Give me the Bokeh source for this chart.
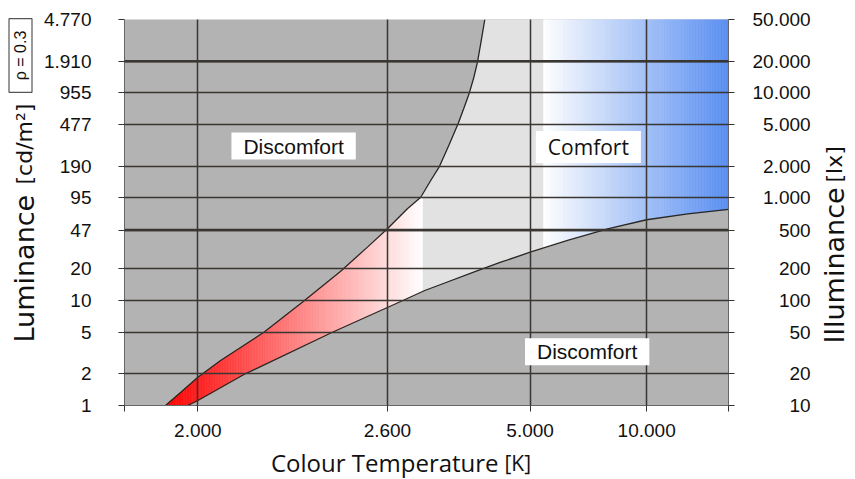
import math
import numpy as np
from bokeh.plotting import figure
from bokeh.layouts import row, column
from bokeh.models import Range1d, FixedTicker, LogAxis, Label, Span
from bokeh.embed import file_html
from bokeh.resources import INLINE

# ---------------- data ----------------
# Colour-temperature axis of the source is neither linear nor logarithmic:
# x values are positions along that axis, 0 = left end, 100 = right end.
x_tick_pos = [12.15, 43.53, 67.16, 86.45]
x_tick_labels = ["2.000", "2.600", "5.000", "10.000"]
x_axis_end = 100.0

# Luminance [cd/m²] (left) and the matching illuminance [lx] (right)
lum_ticks = [1, 2, 5, 10, 20, 47, 95, 190, 477, 955, 1910, 4770]
lum_labels = ["1", "2", "5", "10", "20", "47", "95", "190", "477", "955", "1.910", "4.770"]
lux_ticks = [10, 20, 50, 100, 200, 500, 1000, 2000, 5000, 10000, 20000, 50000]

# upper comfort boundary (left edge of comfort zone)
upper_x = [6.79, 9.00, 12.15, 15.91, 23.08, 29.44, 35.79, 40.22, 43.53, 46.84,
           49.05, 50.70, 52.08, 53.69, 55.23, 56.17, 57.05, 57.83, 58.44, 59.07, 59.65]
upper_lum = [1.0, 1.29, 1.86, 2.68, 4.99, 9.65, 19.05, 32.3, 48.3, 74.9,
             96.6, 139.4, 186.6, 300.6, 484, 677, 934, 1336, 1869, 3010, 4770]

# lower comfort boundary
lower_x = [10.44, 12.15, 19.77, 34.42, 45.73, 49.71, 52.36, 58.24, 62.30, 67.16,
           73.36, 79.98, 86.45, 93.24, 100.0]
lower_lum = [1.0, 1.116, 1.974, 4.99, 9.80, 12.47, 14.23, 19.05, 23.2, 28.9,
             37.4, 48.3, 58.9, 67.1, 73.8]

# colour bands inside the comfort zone
red_start, red_end = 6.79, 49.33      # warm band: red -> white
blue_start = 69.38                    # cool band: white -> blue (to axis end)
rho = 0.3

# ---------------- styling ----------------
BG = "#b3b3b3"
COMFORT = "#e2e2e2"
GRID = "#3a3632"
RED = (255, 0, 0)
BLUE = (88, 142, 242)
TXT = "#111111"
LUM_MIN, LUM_MAX = lum_ticks[0], lum_ticks[-1]

W, H = 855, 479
SIDE_L, SIDE_R = 40, 40
MAIN_W, MAIN_H = W - SIDE_L - SIDE_R, 445
FRAME_L = SIDE_L + 84          # page x of the plot frame's left edge


def lux_label(v):
    s = f"{v:,}".replace(",", ".")
    units = sum(2 if ch.isdigit() else 1 for ch in s)
    return "\u00a0" * (11 - units) + s


def mix(c0, c1, t):
    t = min(max(t, 0.0), 1.0)
    r, g, b = (round(a + (b_ - a) * t) for a, b_ in zip(c0, c1))
    return f"#{r:02x}{g:02x}{b:02x}"


lup = np.log10(upper_lum)
llo = np.log10(lower_lum)


def upper_at(x):
    return 10 ** np.interp(x, upper_x, lup, left=0.0, right=math.log10(LUM_MAX))


def lower_at(x):
    return 10 ** np.interp(x, lower_x, llo, left=0.0)


p = figure(
    x_range=Range1d(0, x_axis_end), y_range=Range1d(LUM_MIN, LUM_MAX),
    y_axis_type="log", width=MAIN_W, height=MAIN_H, frame_width=604, frame_height=386,
    min_border_left=84, min_border_right=MAIN_W - 84 - 604, min_border_top=19,
    min_border_bottom=MAIN_H - 19 - 386,
    output_backend="svg", toolbar_location=None,
    background_fill_color=BG, border_fill_color="white",
)
p.outline_line_color = None

# comfort zone
p.patch(upper_x + [x_axis_end] + lower_x[::-1],
        upper_lum + [LUM_MAX] + lower_lum[::-1],
        fill_color=COMFORT, line_color=None)


def strips(x0, x1, n, top_fn, color_fn):
    edges = np.linspace(x0, x1, n + 1)
    xs, ys, cs = [], [], []
    for a, b in zip(edges[:-1], edges[1:]):
        xs.append([a, b, b, a])
        ys.append([lower_at(a), lower_at(b), top_fn(b), top_fn(a)])
        cs.append(color_fn((a + b) / 2))
    p.patches(xs, ys, fill_color=cs, line_color=cs, line_width=0.6)


strips(red_start, red_end, 160, upper_at,
       lambda x: mix(RED, (255, 255, 255), (x - red_start) / (red_end - red_start)))
strips(blue_start, x_axis_end, 120, lambda x: LUM_MAX,
       lambda x: mix((255, 255, 255), BLUE, (x - blue_start) / (x_axis_end - blue_start)))

# boundaries
p.line(upper_x, upper_lum, line_color="#2a2622", line_width=1.3)
p.line(lower_x, lower_lum, line_color="#2a2622", line_width=1.3)

# axes & grid
xt = [0.0] + x_tick_pos + [x_axis_end]
p.xaxis.ticker = FixedTicker(ticks=xt)
p.xaxis.major_label_overrides = {**{0.0: "", x_axis_end: ""},
                                 **dict(zip(x_tick_pos, x_tick_labels))}
p.yaxis.ticker = FixedTicker(ticks=lum_ticks)
p.yaxis.major_label_overrides = dict(zip(lum_ticks, lum_labels))

right = LogAxis(ticker=FixedTicker(ticks=lum_ticks),
                major_label_overrides={t: lux_label(v) for t, v in zip(lum_ticks, lux_ticks)})
p.add_layout(right, "right")

for ax in (p.xaxis[0], p.yaxis[0], right):
    ax.major_label_text_font = "Liberation Sans"
    ax.major_label_text_font_size = "19px"
    ax.major_label_text_color = TXT
    ax.major_tick_line_color = "#333333"
    ax.major_tick_out = 6
    ax.major_tick_in = 0
    ax.minor_tick_line_color = None
    ax.axis_line_color = "#666666"
p.yaxis[0].major_label_standoff = 27
right.major_label_standoff = 18
p.xaxis[0].major_label_standoff = 12

for g in (p.xgrid[0], p.ygrid[0]):
    g.grid_line_color = GRID
    g.grid_line_width = 1.5
    g.grid_line_alpha = 1.0
    g.level = "guide"
p.ygrid[0].ticker = FixedTicker(ticks=lum_ticks)

for loc in (47, 1910):
    p.add_layout(Span(location=loc, dimension="width", line_color=GRID, line_width=2.6))


# region labels
def region_label(x, y, text, font):
    p.add_layout(Label(x=x, y=y, text=text, text_align="center", text_baseline="middle",
                       text_font=font, text_font_size="21px", text_color=TXT,
                       background_fill_color="white",
                       padding=dict(left=12, right=12, top=2, bottom=2)))


region_label(28.0, 297, "Discomfort", "Liberation Sans")
region_label(76.8, 291, "Comfort", "Open Sans")
region_label(76.6, 3.25, "Discomfort", "Liberation Sans")


# ---------------- side strips carrying the axis titles ----------------
def side_fig(w, h):
    f = figure(width=w, height=h, x_range=Range1d(0, 1), y_range=Range1d(0, 1),
               x_axis_location=None, y_axis_location=None, min_border=0,
               output_backend="svg", toolbar_location=None,
               background_fill_color="white", border_fill_color="white")
    f.outline_line_color = None
    f.grid.visible = False
    return f


def title(f, x, y, text, size, font="DejaVu Sans", angle=0.0):
    f.add_layout(Label(x=x, y=y, x_units="screen", y_units="screen", text=text,
                       text_align="left", text_baseline="alphabetic", angle=angle,
                       text_font=font, text_font_size=size, text_color=TXT))


left = side_fig(SIDE_L, H)
title(left, 24, H - 342, "Luminance", "27px", angle=math.pi / 2)
title(left, 24, H - 184, "[cd/m²]", "22px", angle=math.pi / 2)
left.add_layout(Label(x=20, y=H - 55, x_units="screen", y_units="screen",
                      text=f"ρ = {rho}", angle=math.pi / 2,
                      text_align="center", text_baseline="middle",
                      text_font="Liberation Sans", text_font_size="16px", text_color=TXT,
                      background_fill_color="white", border_line_color="#555555",
                      border_line_width=1.2,
                      padding=dict(left=12, right=12, top=3, bottom=3)))

rightf = side_fig(SIDE_R, H)
title(rightf, 19, H - 343, "Illuminance", "27px", angle=math.pi / 2)
title(rightf, 19, H - 182, "[lx]", "22px", angle=math.pi / 2)

# bottom strip: its frame is aligned with the main plot frame by the column layout
bottom = side_fig(MAIN_W, H - MAIN_H)
title(bottom, 270.5 - FRAME_L, 17, "Colour Temperature", "24px", font="Open Sans")
title(bottom, 504 - FRAME_L, 17, "[K]", "21px", font="Open Sans")

layout = row(left, column(p, bottom, spacing=0), rightf, spacing=0)
open("out.html", "w").write(file_html(layout, INLINE))
